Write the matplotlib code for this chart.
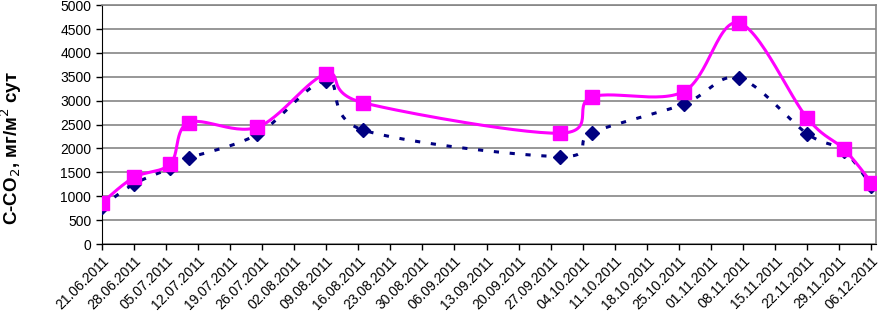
import datetime as dt
import numpy as np
import matplotlib
matplotlib.use('Agg')
import matplotlib.pyplot as plt
import matplotlib.dates as mdates

plt.rcParams['font.family'] = ['Liberation Sans', 'DejaVu Sans']

# ---- data ----
sample_dates = ['21.06.2011', '28.06.2011', '06.07.2011', '10.07.2011', '25.07.2011',
                '09.08.2011', '17.08.2011', '29.09.2011', '06.10.2011', '26.10.2011',
                '07.11.2011', '22.11.2011', '30.11.2011', '06.12.2011']
co2_upper = [857, 1392, 1678, 2541, 2445, 3558, 2959, 2319, 3078, 3189, 4630, 2633, 1985, 1287]
co2_lower = [780, 1254, 1588, 1797, 2298, 3419, 2388, 1830, 2332, 2925, 3475, 2305, 1950, 1210]
x_start, x_end = '21.06.2011', '07.12.2011'
y_ticks = [0, 500, 1000, 1500, 2000, 2500, 3000, 3500, 4000, 4500, 5000]
y_label = 'C-CO$_2$, мг/м$^2$ сут'


def to_num(s):
    return mdates.date2num(dt.datetime.strptime(s, '%d.%m.%Y'))


def excel_smooth(xs, ys, n=30):
    """Catmull-Rom style bezier, like Excel's smoothed line."""
    p = np.column_stack([xs, ys]).astype(float)
    pts = [p[0]]
    t = np.linspace(0, 1, n)[1:, None]
    for i in range(len(p) - 1):
        p0 = p[i - 1] if i > 0 else p[i]
        p3 = p[i + 2] if i + 2 < len(p) else p[i + 1]
        c1 = p[i] + (p[i + 1] - p0) / 6
        c2 = p[i + 1] - (p3 - p[i]) / 6
        seg = ((1 - t) ** 3 * p[i] + 3 * (1 - t) ** 2 * t * c1
               + 3 * (1 - t) * t ** 2 * c2 + t ** 3 * p[i + 1])
        pts.extend(seg)
    pts = np.array(pts)
    return pts[:, 0], pts[:, 1]


x = np.array([to_num(s) for s in sample_dates])

fig = plt.figure(figsize=(8.8, 3.2), dpi=100)
ax = fig.add_axes([0.1155, 0.2375, 0.88, 0.7465])

lx, ly = excel_smooth(x, co2_lower)
ax.plot(lx, ly, color='#000080', lw=2.2, linestyle=(0, (1.7, 3.5)), zorder=3)
ax.plot(x, co2_lower, linestyle='none', marker='D', ms=7, color='#000080', zorder=4)

ux, uy = excel_smooth(x, co2_upper)
ax.plot(ux, uy, color='#FF00FF', lw=2.2, zorder=5)
ax.plot(x, co2_upper, linestyle='none', marker='s', ms=10, color='#FF00FF', zorder=6)

ax.set_xlim(to_num(x_start), to_num(x_end))
ax.set_ylim(0, 5000)
ax.set_yticks(y_ticks)
ax.yaxis.grid(True, color='#858585', lw=1.2)
ax.set_axisbelow(True)

ax.set_xticks(np.arange(to_num(x_start), to_num('06.12.2011') + 1, 7))
ax.xaxis.set_major_formatter(mdates.DateFormatter('%d.%m.%Y'))
for lbl in ax.get_xticklabels():
    lbl.set_rotation(45)
    lbl.set_ha('right')
    lbl.set_rotation_mode('anchor')

ax.tick_params(axis='both', labelsize=10, length=4, width=1, color='black')
ax.tick_params(axis='x', pad=3)
for side in ['top', 'right']:
    ax.spines[side].set_color('#858585')
    ax.spines[side].set_linewidth(1.2)
for side in ['left', 'bottom']:
    ax.spines[side].set_color('black')

ax.set_ylabel(y_label, fontsize=13.5, fontweight='bold')
ax.yaxis.set_label_coords(-0.10, 0.40)

fig.savefig('out.png', dpi=100, facecolor='white')
